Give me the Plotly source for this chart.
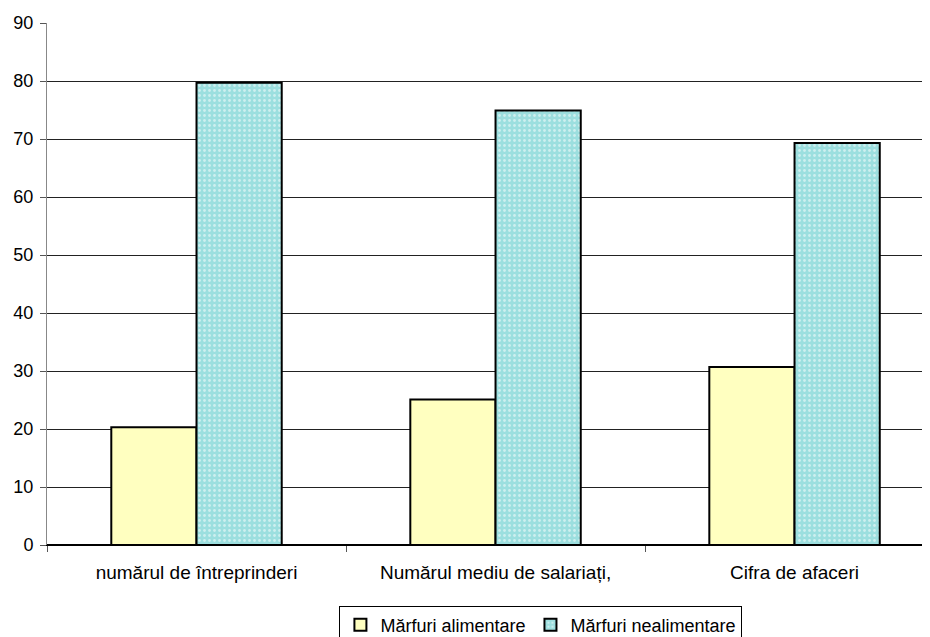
import plotly.graph_objects as go

categories = ["numărul de întreprinderi", "Numărul mediu de salariați,", "Cifra de afaceri"]
alimentare = [20.3, 25.1, 30.7]
nealimentare = [79.7, 74.9, 69.3]
y_ticks = [0, 10, 20, 30, 40, 50, 60, 70, 80, 90]

fig = go.Figure()
fig.add_trace(go.Bar(
    x=categories, y=alimentare, name="Mărfuri alimentare",
    marker=dict(color="#ffffc0", line=dict(color="black", width=2)),
))
fig.add_trace(go.Bar(
    x=categories, y=nealimentare, name="Mărfuri nealimentare",
    marker=dict(color="#9cdfdf", line=dict(color="black", width=2),
                pattern=dict(shape=".", fgcolor="white", bgcolor="#9cdfdf", size=5, solidity=0.25)),
))

fig.update_layout(
    width=922, height=629,
    margin=dict(l=39, r=0, t=15, b=92, autoexpand=False),
    paper_bgcolor="white", plot_bgcolor="white",
    barmode="group", bargap=0.43, bargroupgap=0,
    font=dict(family="Liberation Sans, Arial", size=18, color="black"),
    showlegend=True,
    legend=dict(orientation="h", x=0.578, xanchor="center", xref="container",
                y=0.05, yanchor="top", yref="container",
                bordercolor="black", borderwidth=1, font=dict(size=18),
                itemsizing="constant", tracegroupgap=0, itemwidth=30,
                entrywidth=0),
    xaxis=dict(type="category", range=[-0.5, 2.453], tickson="boundaries",
               ticks="outside", ticklen=6, tickcolor="#555", showline=True,
               linecolor="black", linewidth=1, showgrid=False, automargin=False,
               ticklabelstandoff=10, tickfont=dict(size=19)),
    yaxis=dict(range=[0, 90], tickvals=y_ticks, ticks="outside", ticklen=6,
               tickcolor="#555", showline=True, linecolor="#888", linewidth=1,
               showgrid=True, gridcolor="#222", gridwidth=1, zeroline=True,
               zerolinecolor="black", automargin=False, ticklabelstandoff=3,
               tickfont=dict(size=18)),
)

fig.write_html("out.html")
